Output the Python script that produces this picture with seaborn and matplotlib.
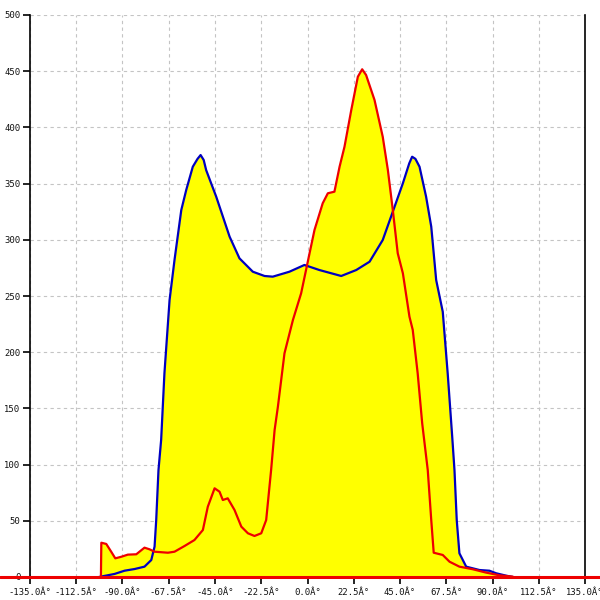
import matplotlib
matplotlib.use("Agg")
import matplotlib.pyplot as plt
import seaborn as sns
import numpy as np

# angle (deg) / count readings for the two curves
blue_x = [-101.5, -93.9, -89.0, -84.1, -79.3, -76.0, -74.4, -73.6, -72.5, -71.2, -69.6,
          -67.1, -64.7, -61.4, -59.0, -55.8, -53.5, -52.0, -50.5, -49.3, -44.4, -37.9,
          -33.1, -26.6, -20.9, -16.9, -8.8, -1.5, 5.8, 16.4, 23.7, 30.2, 36.6, 41.5,
          46.4, 49.5, 50.9, 52.5, 54.5, 57.7, 60.2, 62.6, 65.8, 68.2, 70.4, 71.5, 72.6,
          73.9, 77.2, 83.7, 88.5, 91.8, 96.6, 100.0]
blue_y = [0, 2.7, 5.6, 7.1, 9.2, 15.1, 27, 50.7, 95, 121.9, 181.2,
          246.4, 282, 326.5, 344.3, 365, 372, 375.4, 371, 362, 338.3, 302.8,
          283.5, 271.6, 267.8, 267.2, 271.6, 277.6, 273.1, 267.8, 273.1, 280.5, 299.8, 325,
          350.3, 368, 373.9, 372, 365, 338.3, 311.7, 264.2, 236, 181.2, 124.8, 95.2, 50.7,
          21.1, 9.2, 6.2, 5.6, 3.3, 1.2, 0]

red_x = [-100.5, -100.3, -97.9, -95.5, -93.5, -90.6, -87.4, -83.3, -79.3, -76.8, -74.4,
         -67.9, -64.7, -59.8, -55.0, -50.9, -48.5, -45.2, -42.8, -41.2, -38.8, -35.5,
         -32.2, -29.0, -25.8, -22.5, -20.1, -17.7, -16.0, -14.4, -11.2, -7.1, -3.1,
         1.0, 3.4, 7.4, 9.9, 13.1, 15.6, 18.0, 21.3, 24.5, 26.6, 28.5, 32.6, 36.6,
         39.1, 41.5, 43.9, 46.4, 49.6, 51.2, 53.6, 55.8, 58.5, 60.2, 61.4, 65.8,
         69.1, 73.9, 80.4, 86.9, 93.4, 99.9]
red_y = [0, 30.5, 29.4, 22.5, 16.6, 18, 19.9, 20.2, 26.1, 24.6, 22.5,
         21.6, 22.5, 27.6, 32.9, 41.8, 62.5, 78.9, 75.9, 68.5, 70, 59.6,
         44.8, 38.9, 36.5, 38.9, 50.7, 95.2, 130.8, 151.5, 199, 228.6, 252.4,
         288, 308.7, 332.5, 341.4, 342.8, 365, 382.8, 415.5, 445.1, 451.7, 446.6, 424.4, 391.7,
         362.1, 326.5, 288, 270.2, 231.6, 219.8, 181.2, 136.7, 95.2, 50.7, 21.6, 19.6,
         13.6, 9.2, 6.9, 3.9, 1.5, 0.3]

x_ticks = [-135.0, -112.5, -90.0, -67.5, -45.0, -22.5, 0.0, 22.5, 45.0, 67.5, 90.0, 112.5, 135.0]
y_ticks = [0, 50, 100, 150, 200, 250, 300, 350, 400, 450, 500]

sns.set_style("white")
plt.rcParams['font.family'] = ['DejaVu Sans Mono']

fig = plt.figure(figsize=(6, 6), dpi=100)
ax = fig.add_axes([0.05, 23 / 600, 0.925, 562 / 600])

ax.fill_between(blue_x, blue_y, 0, color="#ffff00", linewidth=0, zorder=1)
ax.fill_between(red_x, red_y, 0, color="#ffff00", linewidth=0, zorder=1)

sns.lineplot(x=blue_x, y=blue_y, ax=ax, color="#0000c0", linewidth=1.6, sort=False, zorder=3)
sns.lineplot(x=red_x, y=red_y, ax=ax, color="#ee0000", linewidth=1.6, sort=False, zorder=4)

# zero line runs across the whole picture
ax.axhline(0, xmin=-30 / 555, xmax=1 + 15 / 555, color="#ee0000", linewidth=2.2,
           clip_on=False, zorder=5)

ax.set_xlim(-135, 135)
ax.set_ylim(0, 500)
ax.set_xticks(x_ticks)
ax.set_xticklabels([f"{t:.1f}Â°" for t in x_ticks])
ax.set_yticks(y_ticks)
ax.set_yticklabels([str(t) for t in y_ticks])
ax.tick_params(axis="both", direction="out", length=5, width=1.2, color="black",
               labelsize=6.4, labelcolor="#111111", bottom=True, left=True, pad=2)
ax.tick_params(axis="x", pad=3)

ax.grid(True, color="#c4c4c4", linestyle=(0, (3, 3)), linewidth=0.8)
ax.set_axisbelow(True)

for side in ["top", "bottom"]:
    ax.spines[side].set_visible(False)
for side in ["left", "right"]:
    ax.spines[side].set_visible(True)
    ax.spines[side].set_color("black")
    ax.spines[side].set_linewidth(1.2)

ax.set_xlabel("")
ax.set_ylabel("")

fig.savefig("out.png", dpi=100)
